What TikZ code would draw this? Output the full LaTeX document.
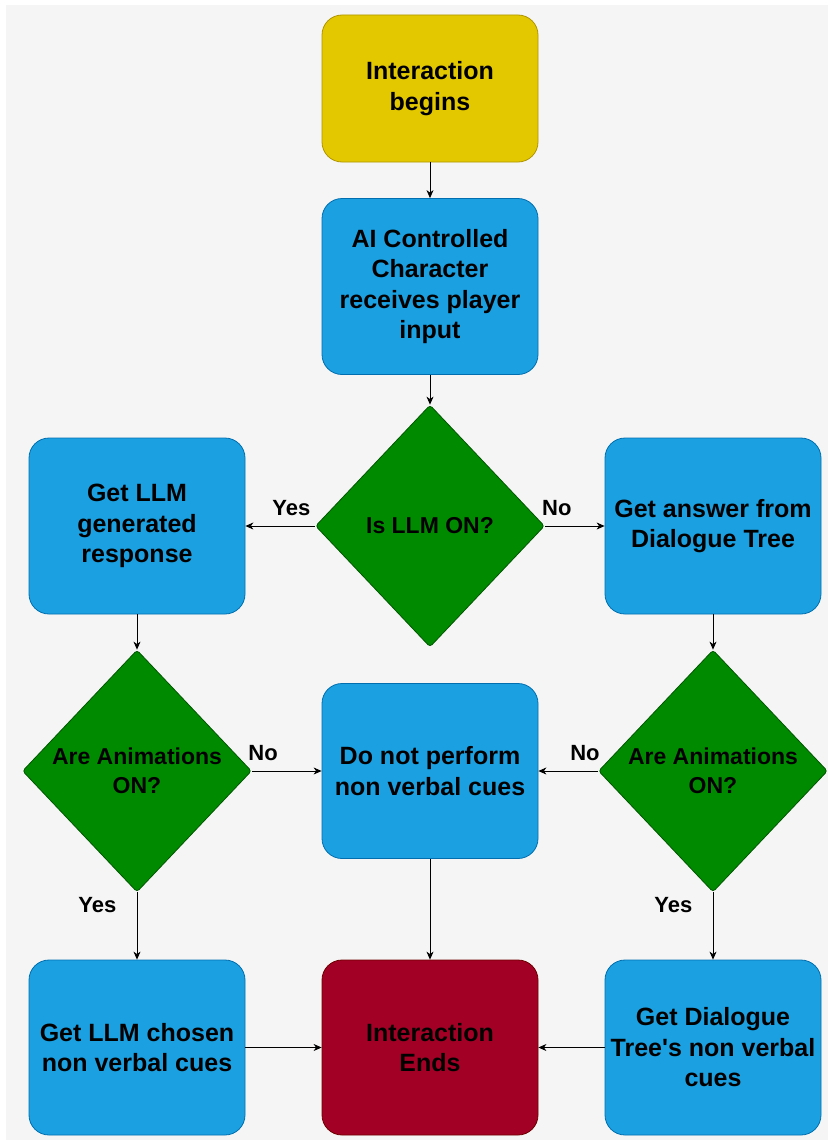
\documentclass[tikz,border=0pt]{standalone}
\usepackage{fontspec}
\setmainfont{Liberation Sans}
\usetikzlibrary{shapes.geometric,arrows.meta}

\definecolor{bgpanel}{HTML}{F5F5F5}
\definecolor{startfill}{HTML}{E3C800}
\definecolor{startline}{HTML}{B09500}
\definecolor{boxfill}{HTML}{1BA1E2}
\definecolor{boxline}{HTML}{006EAF}
\definecolor{askfill}{HTML}{008A00}
\definecolor{askline}{HTML}{005700}
\definecolor{endfill}{HTML}{A20025}
\definecolor{endline}{HTML}{6F0000}

\tikzset{
	flowbox/.style={rectangle, rounded corners=20pt, draw=boxline, fill=boxfill, line width=0.8pt,
		minimum width=216pt, minimum height=176pt, inner sep=2pt, align=center,
		font=\fontsize{25}{30.5}\selectfont\bfseries},
	startbox/.style={flowbox, draw=startline, fill=startfill, minimum height=147pt},
	endbox/.style={flowbox, draw=endline, fill=endfill},
	askbox/.style={diamond, rounded corners=3pt, draw=askline, fill=askfill, line width=0.8pt,
		minimum width=229pt, minimum height=242pt, inner sep=0pt, align=center,
		font=\fontsize{23}{29}\selectfont\bfseries},
	lbl/.style={font=\fontsize{22}{26}\selectfont\bfseries, text=black},
	flowarrow/.style={line width=0.8pt, -{Stealth[length=8pt,width=7pt,inset=2.5pt]}}
}

\begin{document}
\begin{tikzpicture}[x=1pt,y=-1pt]
		\useasboundingbox (0,0) rectangle (828,1140);
		\fill [white] (0,0) rectangle (828,1140);
		\fill [bgpanel] (6,5) rectangle (828,1140);

		\draw (430,88.5) node [startbox] (start) {Interaction\\begins};
		\draw (430,286.5) node [flowbox] (ai) {AI Controlled\\Character\\receives player\\input};
		\draw (430,526) node [askbox] (isllm) {Is LLM ON?};
		\draw (137,526) node [flowbox] (llmresp) {Get LLM\\generated\\response};
		\draw (713,526) node [flowbox] (dtans) {Get answer from\\Dialogue Tree};
		\draw (137,771) node [askbox] (animl) {Are Animations\\ON?};
		\draw (430,771) node [flowbox, minimum height=175pt] (nocues) {Do not perform\\non verbal cues};
		\draw (713,771) node [askbox] (animr) {Are Animations\\ON?};
		\draw (137,1047.5) node [flowbox, minimum height=175pt] (llmcues) {Get LLM chosen\\non verbal cues};
		\draw (430,1047.5) node [endbox, minimum height=175pt] (ends) {Interaction\\Ends};
		\draw (713,1047.5) node [flowbox, minimum height=175pt] (dtcues) {Get Dialogue\\Tree\textquotesingle s non verbal\\cues};

		\draw [flowarrow]
			(start) edge (ai)
			(ai) edge (isllm)
			(isllm) edge node [lbl, above=7pt, pos=0.34] (yesllm) {Yes} (llmresp)
			(isllm) edge node [lbl, above=7pt, pos=0.2] (nollm) {No} (dtans)
			(llmresp) edge (animl)
			(dtans) edge (animr)
			(animl) edge node [lbl, above=7pt, pos=0.16] (noaniml) {No} (nocues)
			(animr) edge node [lbl, above=7pt, pos=0.22] (noanimr) {No} (nocues)
			(animl) edge node [lbl, left=17pt, pos=0.19] (yesaniml) {Yes} (llmcues)
			(animr) edge node [lbl, left=17pt, pos=0.19] (yesanimr) {Yes} (dtcues)
			(nocues) edge (ends)
			(llmcues) edge (ends)
			(dtcues) edge (ends)
		;
	\end{tikzpicture}
\end{document}
